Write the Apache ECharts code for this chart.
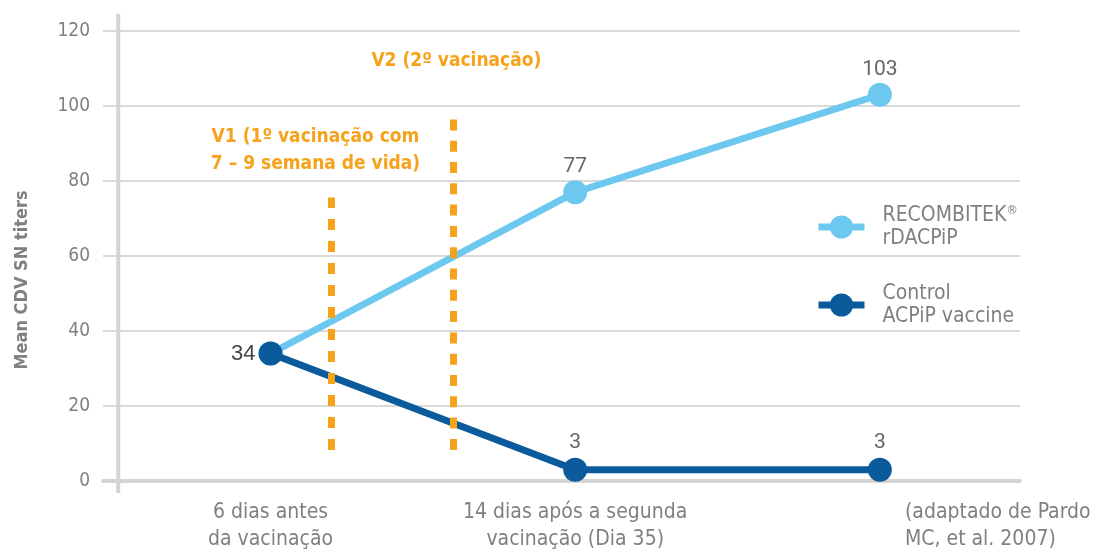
<!DOCTYPE html>
<html>
<head>
<meta charset="utf-8">
<script src="https://cdn.jsdelivr.net/npm/echarts@6/dist/echarts.min.js"></script>
<style>
  html, body { margin: 0; padding: 0; background: #fff; }
  #main { width: 1099px; height: 549px; }
</style>
</head>
<body>
<div id="main"></div>
<script>
// data
const categories = ['6 dias antes\nda vacinação', '14 dias após a segunda\nvacinação (Dia 35)', '']
const categoryPos = [0, 1, 2]
const recombitek = [34, 77, 103]
const control = [34, 3, 3]
const seriesNames = ['RECOMBITEK®\nrDACPiP', 'Control\nACPiP vaccine']
const yTicks = [0, 20, 40, 60, 80, 100, 120]
// vertical dashed markers: [x, yBottom, yTop]
const v1Line = [0.2, 8.3, 75.6]
const v2Line = [0.6, 8.3, 96.5]
const v1Text = 'V1 (1º vacinação com\n7 – 9 semana de vida)'
const v2Text = 'V2 (2º vacinação)'
const sourceNote = '(adaptado de Pardo\nMC, et al. 2007)'

const narrow = '"Liberation Sans Narrow", "DejaVu Sans Condensed", Roboto, sans-serif'
const lightBlue = '#6cc8ef'
const darkBlue = '#0a5a9c'
const orange = '#f7a21b'
const gray = '#808080'

const chart = echarts.init(document.getElementById('main'))

const pts = (vals) => vals.map((v, i) => [categoryPos[i], v])

const option = {
  animation: false,
  textStyle: { fontFamily: narrow },
  title: {
    text: sourceNote,
    left: 900,
    top: 494,
    textStyle: {
      fontFamily: narrow,
      fontSize: 21,
      fontWeight: 'normal',
      color: gray,
      lineHeight: 27
    }
  },
  grid: {
    left: 103,
    right: 79,
    top: 31,
    bottom: 68,
    outerBoundsMode: 'none'
  },
  legend: {
    orient: 'vertical',
    left: 810,
    top: 199,
    itemWidth: 46,
    itemHeight: 29,
    itemGap: 32,
    data: seriesNames,
    lineStyle: { width: 7 },
    formatter: (name) => name.replace('®', '{sup|®}'),
    textStyle: {
      fontFamily: narrow,
      fontSize: 21,
      color: gray,
      lineHeight: 23,
      padding: [0, 0, 0, 13],
      rich: {
        sup: {
          fontFamily: narrow,
          fontSize: 13,
          color: gray,
          verticalAlign: 'top',
          padding: [0, 0, 8, 0]
        }
      }
    }
  },
  xAxis: {
    type: 'value',
    min: -0.55,
    max: 2.46,
    splitLine: { show: false },
    axisTick: { show: false },
    axisLine: {
      show: true,
      lineStyle: { color: '#d4d4d4', width: 4 }
    },
    axisLabel: {
      customValues: categoryPos,
      formatter: (v) => categories[Math.round(v)] || '',
      color: gray,
      fontFamily: narrow,
      fontSize: 21,
      lineHeight: 27,
      margin: 18
    }
  },
  yAxis: {
    type: 'value',
    min: 0,
    max: 120,
    interval: 20,
    offset: -15,
    name: 'Mean CDV SN titers',
    nameLocation: 'middle',
    nameGap: 87,
    nameTextStyle: {
      fontFamily: narrow,
      fontSize: 18,
      fontWeight: 'bold',
      color: gray,
      padding: [0, 48, 0, 0]
    },
    axisLine: { show: false, onZero: false },
    axisTick: { show: false },
    axisLabel: {
      color: gray,
      fontFamily: narrow,
      fontSize: 19,
      margin: 28,
      formatter: (v) => (yTicks.includes(v) ? String(v) : '')
    },
    splitLine: {
      show: true,
      lineStyle: { color: '#dadada', width: 2 }
    }
  },
  series: [
    {
      name: seriesNames[0],
      type: 'line',
      z: 2,
      data: pts(recombitek).map((p, i) => ({
        value: p,
        label: { show: i > 0 }
      })),
      symbol: 'circle',
      symbolSize: 24,
      lineStyle: { color: lightBlue, width: 7 },
      itemStyle: { color: lightBlue },
      label: {
        position: 'top',
        distance: 3,
        color: '#666',
        fontFamily: 'Roboto, sans-serif',
        fontSize: 21,
        formatter: (p) => String(p.value[1])
      }
    },
    {
      name: seriesNames[1],
      type: 'line',
      z: 3,
      data: pts(control).map((p, i) => ({
        value: p,
        label: i === 0
          ? { show: true, position: 'left', distance: 3, color: '#444', fontFamily: 'Liberation Sans, Arial, sans-serif', fontSize: 22 }
          : { show: true, position: 'top' }
      })),
      symbol: 'circle',
      symbolSize: 24,
      lineStyle: { color: darkBlue, width: 7 },
      itemStyle: { color: darkBlue },
      label: {
        distance: 5,
        color: '#666',
        fontFamily: 'Roboto, sans-serif',
        fontSize: 21,
        formatter: (p) => String(p.value[1])
      }
    },
    {
      name: 'markers',
      type: 'line',
      z: 5,
      data: [],
      markLine: {
        silent: true,
        symbol: ['none', 'none'],
        lineStyle: {
          color: orange,
          width: 7,
          type: [11, 11],
          cap: 'butt'
        },
        label: {
          show: true,
          position: 'end',
          color: orange,
          fontFamily: narrow,
          fontSize: 19,
          fontWeight: 'bold',
          lineHeight: 27
        },
        data: [
          [
            { coord: [v1Line[0], v1Line[1]] },
            { coord: [v1Line[0], v1Line[2]], label: { formatter: v1Text, offset: [-16, -15] } }
          ],
          [
            { coord: [v2Line[0], v2Line[1]], lineStyle: { type: [11, 10.3] } },
            { coord: [v2Line[0], v2Line[2]], label: { formatter: v2Text, offset: [3, -40] } }
          ]
        ]
      }
    }
  ]
}

chart.setOption(option)

// y axis line, drawn a bit past the grid like the original
function drawAxisLine() {
  const top = chart.convertToPixel({ gridIndex: 0 }, [-0.5, 120])
  const bottom = chart.convertToPixel({ gridIndex: 0 }, [-0.5, 0])
  chart.setOption({
    graphic: [{
      type: 'line',
      id: 'yAxisLine',
      z: 1,
      shape: { x1: top[0], y1: top[1] - 17, x2: bottom[0], y2: bottom[1] + 12 },
      style: { stroke: '#d4d4d4', lineWidth: 4 }
    }]
  })
}
drawAxisLine()

window.addEventListener('resize', () => {
  chart.resize()
  drawAxisLine()
})
</script>
</body>
</html>
